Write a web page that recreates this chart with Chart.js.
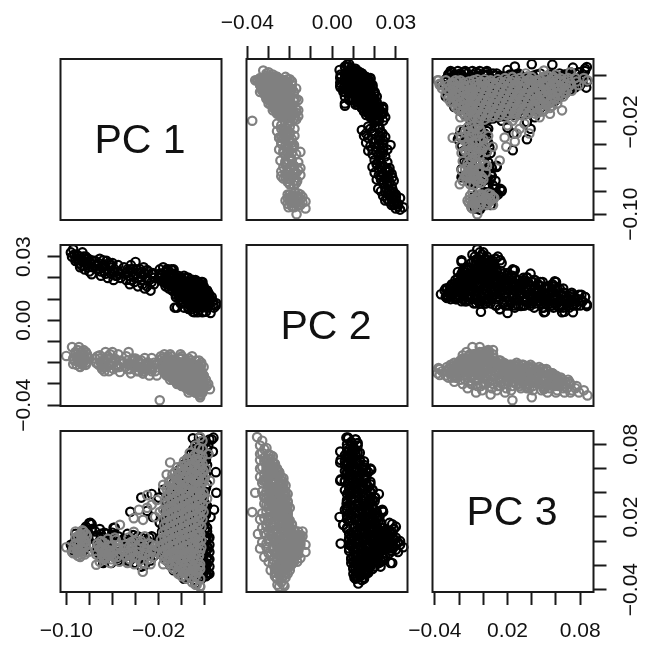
<!DOCTYPE html>
<html>
<head>
<meta charset="utf-8">
<style>
  body { margin: 0; background: #fff; }
  #page { position: relative; width: 659px; height: 655px; }
  canvas { position: absolute; left: 0; top: 0; }
</style>
<script src="https://cdn.jsdelivr.net/npm/chart.js@4/dist/chart.umd.min.js"></script>
</head>
<body>
<div id="page"></div>
<script>
// Scores, one row of each array per cluster
var greyPc1 = [
  .016,.018,
  .012,.015,.018,
  .007,.011,.014,.018,
  .002,.006,.010,.014,.018,
  -.004,.000,.004,.008,.012,.016,.019,
  -.008,-.004,.000,.004,.008,.012,.016,.020,
  -.011,-.007,-.003,.001,.005,.009,.013,.017,
  -.013,-.009,-.005,-.001,.003,.007,.011,.015,.019,
  -.013,-.009,-.005,-.001,.003,.007,.011,.015,.019,
  -.014,-.010,-.006,-.002,.002,.006,.010,.014,.018,
  -.013,-.009,-.005,-.001,.003,.007,.011,.015,.019,
  -.014,-.010,-.006,-.002,.002,.006,.010,.014,.018,
  -.015,-.011,-.007,-.003,.001,.005,.009,.013,.017,
  -.016,-.012,-.008,-.004,.000,.004,.008,.012,.016,
  -.018,-.014,-.010,-.006,-.002,.002,.006,.010,.014,.017,
  -.019,-.015,-.011,-.007,-.003,.001,.005,.009,.013,.017,
  -.017,-.013,-.009,-.005,-.001,.003,.007,.011,.015,
  -.012,-.008,-.004,.000,.004,.008,.012,.016,
  -.007,-.003,.001,.005,.009,.013,.016,
  .000,.004,.008,.012,.016,
  .009,.013,.016,
  .0245,.022,.021,.023,.016,.016,.012,-.016,
  -.100,-.095,-.094,-.092,-.090,-.089,-.088,-.087,-.086,-.085,-.084,-.083,-.082,-.081,-.091,-.087,-.083,-.094,-.090,-.086,
  -.075,-.072,-.071,-.069,-.068,-.066,-.065,-.064,-.063,-.061,-.060,-.059,-.058,-.056,-.055,-.053,-.070,-.067,-.062,-.057,
  -.050,-.048,-.046,-.045,-.043,-.042,-.040,-.039,-.037,-.036,-.0337,-.032,-.031,-.029,-.028,-.026,-.025,-.023,-.044,-.035,
  -.030,-.0415,-.037,-.030,-.0215,-.016,-.023,-.0335,-.0415,-.0535,-.010,-.013,-.016,-.019,-.026,-.074,-.090,
  .005,.009,.013,.016,
  .000,.004,.008,.012,.016,
  -.006,-.002,.002,.006,.010,.014,.018,
  -.009,-.005,-.001,.003,.007,.011,.015,.019,
  -.012,-.008,-.004,.000,.004,.008,.012,.016,
  -.011,-.007,-.003,.001,.005,.009,.013,.017,
  -.012,-.008,-.004,.000,.004,.008,.012,.016,
  -.011,-.007,-.003,.001,.005,.009,.013,.017,
  -.012,-.008,-.004,.000,.004,.008,.012,.016,
  -.013,-.009,-.005,-.001,.003,.007,.011,.015,
  -.014,-.010,-.006,-.002,.002,.006,.010,.014,
  -.015,-.012,-.008,-.004,.000,.004,.008,.012,.015,
  -.017,-.013,-.009,-.005,-.001,.003,.007,.011,.015,
  -.016,-.012,-.008,-.004,.000,.004,.008,.012,.016,
  -.015,-.010,-.006,-.002,.002,.006,.010,.014,
  -.009,-.005,-.001,.003,.007,.011,.015,
  -.003,.002,.006,.010,.014,
  -.093,-.089,-.085,-.092,-.088,-.084,-.091,-.087,-.083,-.086,
  -.074,-.071,-.069,-.067,-.065,-.063,-.061,-.059,-.057,-.055,-.073,-.068,
  -.049,-.047,-.044,-.042,-.040,-.038,-.036,-.034,-.032,-.030,-.028,-.026,-.024,-.046,
  -.062,-.054,-.047,-.041,-.033,-.027
];
var greyPc2 = [
  -.0354,-.033,
  -.034,-.031,-.032,
  -.033,-.029,-.034,-.028,
  -.030,-.034,-.028,-.032,-.027,
  -.027,-.031,-.026,-.033,-.029,-.034,-.026,
  -.026,-.030,-.024,-.032,-.027,-.034,-.025,-.031,
  -.023,-.028,-.025,-.031,-.023,-.033,-.027,-.030,
  -.025,-.022,-.029,-.024,-.031,-.026,-.033,-.023,-.029,
  -.022,-.027,-.024,-.030,-.022,-.032,-.025,-.029,-.026,
  -.024,-.021,-.028,-.023,-.030,-.025,-.032,-.023,-.031,
  -.021,-.026,-.023,-.029,-.021,-.031,-.025,-.033,-.022,
  -.023,-.020,-.027,-.022,-.030,-.024,-.032,-.021,-.034,
  -.019,-.025,-.021,-.028,-.020,-.031,-.024,-.033,-.020,
  -.022,-.018,-.026,-.020,-.029,-.023,-.032,-.019,-.035,
  -.017,-.024,-.016,-.027,-.020,-.030,-.018,-.033,-.025,-.021,
  -.020,-.016,-.025,-.019,-.028,-.022,-.031,-.017,-.034,-.024,
  -.018,-.023,-.017,-.026,-.020,-.029,-.022,-.032,-.019,
  -.021,-.019,-.025,-.018,-.028,-.022,-.030,-.024,
  -.022,-.025,-.020,-.027,-.023,-.029,-.026,
  -.023,-.026,-.022,-.027,-.024,
  -.024,-.023,-.025,
  -.0325,-.031,-.028,-.030,-.0363,-.0225,-.0258,-.020,
  -.0168,-.0126,-.0206,-.016,-.019,-.0126,-.022,-.015,-.020,-.014,-.018,-.021,-.016,-.0175,-.017,-.019,-.015,-.018,-.014,-.021,
  -.018,-.021,-.0165,-.023,-.019,-.015,-.022,-.017,-.024,-.020,-.015,-.023,-.018,-.021,-.016,-.019,-.020,-.024,-.016,-.022,
  -.020,-.017,-.015,-.023,-.019,-.021,-.018,-.024,-.020,-.022,-.025,-.0178,-.023,-.020,-.026,-.0178,-.022,-.024,-.025,-.019,
  -.022,-.021,-.024,-.020,-.026,-.023,-.021,-.025,-.019,-.0244,-.028,-.026,-.024,-.0377,-.023,-.020,-.018,
  -.030,-.032,-.029,-.031,
  -.028,-.029,-.031,-.027,-.030,
  -.025,-.028,-.030,-.025,-.030,-.028,-.029,
  -.027,-.023,-.028,-.027,-.030,-.024,-.032,-.027,
  -.024,-.026,-.022,-.027,-.029,-.024,-.030,-.026,
  -.023,-.025,-.027,-.021,-.028,-.030,-.023,-.032,
  -.026,-.023,-.021,-.027,-.026,-.029,-.021,-.028,
  -.022,-.025,-.027,-.023,-.028,-.024,-.030,-.025,
  -.025,-.021,-.025,-.026,-.024,-.029,-.027,-.023,
  -.021,-.023,-.019,-.025,-.027,-.021,-.029,-.031,
  -.020,-.024,-.022,-.018,-.026,-.028,-.021,-.030,
  -.023,-.019,-.022,-.025,-.017,-.027,-.022,-.030,-.028,
  -.018,-.021,-.019,-.023,-.016,-.026,-.020,-.028,-.031,
  -.022,-.017,-.021,-.024,-.018,-.027,-.019,-.030,-.026,
  -.019,-.021,-.023,-.018,-.026,-.020,-.028,-.022,
  -.020,-.023,-.021,-.025,-.020,-.027,-.022,
  -.024,-.022,-.025,-.021,-.027,
  -.019,-.017,-.016,-.015,-.020,-.019,-.021,-.016,-.020,-.018,
  -.020,-.018,-.021,-.020,-.018,-.021,-.018,-.020,-.019,-.022,-.017,-.022,
  -.022,-.019,-.021,-.018,-.022,-.019,-.020,-.023,-.021,-.023,-.021,-.024,-.020,-.021,
  -.021,-.022,-.023,-.021,-.024,-.022
];
var greyPc3 = [
  .086,.083,
  .079,.077,.076,
  .073,.071,.072,.070,
  .066,.067,.065,.066,.064,
  .061,.059,.060,.061,.059,.060,.058,
  .055,.054,.053,.055,.054,.053,.055,.052,
  .049,.047,.048,.049,.047,.048,.049,.047,
  .043,.041,.042,.043,.041,.042,.041,.043,.040,
  .037,.035,.036,.037,.035,.036,.037,.035,.036,
  .031,.029,.030,.031,.029,.030,.031,.029,.030,
  .025,.023,.024,.025,.023,.024,.025,.023,.024,
  .019,.017,.018,.019,.017,.018,.019,.017,.018,
  .013,.011,.012,.013,.011,.012,.013,.011,.012,
  .007,.005,.006,.007,.005,.006,.007,.005,.006,
  .001,-.001,.000,.001,-.001,.000,.001,-.001,.000,.001,
  -.005,-.007,-.006,-.005,-.007,-.006,-.005,-.007,-.006,-.005,
  -.011,-.013,-.012,-.011,-.013,-.012,-.011,-.013,-.012,
  -.017,-.019,-.018,-.017,-.019,-.018,-.017,-.019,
  -.023,-.025,-.024,-.023,-.025,-.024,-.023,
  -.029,-.031,-.030,-.029,-.031,
  -.034,-.036,-.0378,
  .050,.035,.060,.072,.040,-.037,-.036,-.019,
  -.005,-.009,-.010,.008,-.012,-.003,-.013,.005,-.006,.008,-.011,-.004,.004,-.009,-.002,.001,-.001,-.006,.004,.009,
  -.008,-.004,-.017,-.011,-.001,-.014,-.007,.002,-.012,-.015,-.003,-.009,.003,-.013,-.006,-.010,.000,-.015,-.008,.001,
  -.007,-.012,.003,-.015,-.003,-.009,.001,-.013,-.006,-.016,-.0253,.004,-.010,-.015,-.002,-.007,-.013,-.004,-.001,.000,
  .038,.019,.026,.0275,.034,.026,.020,.0176,.0077,.0135,.065,.055,.0465,.024,.030,-.0195,-.009,
  .068,.069,.068,.067,
  .062,.063,.062,.061,.063,
  .057,.056,.058,.057,.056,.058,.057,
  .051,.052,.050,.051,.052,.050,.051,.050,
  .045,.044,.046,.045,.044,.046,.045,.044,
  .039,.040,.038,.039,.040,.038,.039,.038,
  .033,.034,.032,.033,.034,.032,.033,.032,
  .027,.028,.026,.027,.028,.026,.027,.026,
  .021,.022,.020,.021,.022,.020,.021,.020,
  .015,.016,.014,.015,.016,.014,.015,.014,
  .009,.010,.008,.009,.010,.008,.009,.008,
  .003,.004,.002,.003,.004,.002,.003,.002,.004,
  -.003,-.002,-.004,-.003,-.002,-.004,-.003,-.004,-.002,
  -.009,-.008,-.010,-.009,-.008,-.010,-.009,-.010,-.008,
  -.015,-.014,-.016,-.015,-.014,-.016,-.015,-.016,
  -.021,-.020,-.022,-.021,-.020,-.022,-.021,
  -.027,-.026,-.028,-.027,-.026,
  -.003,-.008,.002,.003,.006,.000,-.007,-.011,.006,-.003,
  -.011,-.006,-.005,-.008,-.011,-.004,-.010,-.013,-.006,-.003,-.002,-.013,
  -.003,-.009,-.011,.000,-.013,-.009,-.003,-.011,-.005,-.008,-.012,-.003,-.009,-.005,
  -.018,-.017,-.018,-.019,-.018,-.019
];

var blackPc1 = [
  .012,.016,.020,.023,
  .008,.012,.016,.020,.023,
  .003,.007,.011,.015,.019,.022,
  -.003,.001,.005,.009,.013,.017,.021,
  -.007,-.002,.003,.008,.013,.018,.022,
  -.010,-.005,.000,.005,.010,.015,.020,
  -.013,-.008,-.003,.002,.007,.012,.017,.021,
  -.014,-.009,-.004,.001,.006,.011,.016,.021,
  -.015,-.010,-.005,.000,.005,.010,.015,.020,
  -.017,-.012,-.007,-.002,.003,.008,.013,.018,.022,
  -.019,-.014,-.009,-.004,.001,.006,.011,.016,.021,.023,
  -.018,-.013,-.008,-.003,.002,.007,.012,.017,.021,.023,
  -.013,-.008,-.003,.002,.007,.012,.017,.021,.023,
  -.007,-.002,.003,.008,.013,.018,.021,.023,
  .002,.007,.012,.017,.021,
  -.096,-.095,-.094,-.092,-.091,-.089,-.088,-.087,-.086,-.085,-.084,-.083,-.082,-.081,-.080,-.079,-.078,-.077,
  -.075,-.073,-.071,-.070,-.068,-.067,-.065,-.064,-.062,-.061,-.060,-.059,-.058,-.056,-.055,-.053,-.072,-.066,
  -.050,-.048,-.047,-.045,-.044,-.042,-.041,-.039,-.038,-.036,-.035,-.033,-.032,-.030,-.029,-.027,-.026,-.024,
  -.0445,-.026,-.019,-.059,-.035,-.030,-.025,-.020,-.016,-.068,-.078,
  .0275,.026,.0097,.015,.027,.0296,.028,.018,.014,.011,.009,-.002,-.008,.006,.020,.019,.021,.003,.024,.030,.025,.0097,-.007,.012,-.040,-.035,.015,
  .010,.014,.018,.022,
  .005,.009,.013,.017,.021,
  .000,.004,.008,.012,.016,.020,
  -.005,-.001,.003,.007,.011,.015,.019,
  -.008,-.004,.001,.006,.011,.016,.021,
  -.011,-.006,-.001,.004,.009,.014,.019,
  -.013,-.008,-.003,.002,.007,.012,.017,.022,
  -.014,-.010,-.005,.000,.005,.010,.015,.020,
  -.016,-.011,-.006,-.001,.004,.009,.014,.019,.022,
  -.018,-.013,-.008,-.003,.002,.007,.012,.017,.021,
  -.019,-.014,-.009,-.004,.001,.006,.011,.016,.020,.022,
  -.016,-.011,-.006,-.001,.004,.009,.014,.019,.022,
  -.010,-.005,.000,.005,.010,.015,.019,.022,
  -.002,.004,.009,.014,.019,.022,
  -.093,-.090,-.087,-.085,-.083,-.081,-.092,-.088,-.084,-.080,
  -.074,-.072,-.069,-.067,-.065,-.063,-.061,-.059,-.057,-.055,-.054,-.070,
  -.049,-.046,-.044,-.042,-.040,-.038,-.036,-.034,-.032,-.030,-.028,-.026,-.024,-.047,
  .016,.019,
  .012,.016,.019,
  .006,.010,.014,.018,
  .002,.007,.011,.015,.019,
  -.004,.001,.005,.010,.014,.018,
  -.006,-.001,.004,.009,.013,.017,
  .018,.014,.009,.004,-.001,-.006,
  .019,.015,.010,.005,.001,-.004,-.009,
  .019,.016,.012,.008,.003,-.002,-.006,-.011,
  .020,.016,.012,.008,.004,-.001,-.006,-.012,
  .020,.016,.012,.008,.004,.000,-.004,-.008,-.012,-.016,
  .019,.015,.011,.007,.003,-.001,-.005,-.009,-.013,
  .018,.014,.010,.006,.002,-.002,-.007,
  .014,.010,.006,.002,-.003,
  .012,.008,.003,
  .024,.024,.024,.024,.024,.024
];
var blackPc2 = [
  .007,.010,.009,.012,
  .009,.006,.012,.008,.011,
  .012,.007,.015,.009,.013,.006,
  .014,.009,.016,.007,.012,.017,.008,
  .016,.011,.018,.008,.014,.006,.012,
  .018,.012,.016,.009,.019,.007,.012,
  .017,.020,.012,.018,.009,.015,.007,.011,
  .021,.016,.019,.011,.017,.008,.014,.009,
  .019,.022,.014,.018,.011,.016,.008,.012,
  .022,.017,.021,.013,.018,.010,.015,.008,.011,
  .024,.018,.021,.015,.019,.011,.016,.009,.013,.008,
  .021,.023,.016,.020,.012,.017,.010,.014,.008,.011,
  .020,.017,.021,.013,.018,.010,.015,.009,.012,
  .016,.019,.012,.017,.011,.015,.010,.013,
  .015,.012,.014,.011,.013,
  .032,.030,.0335,.029,.031,.027,.030,.026,.032,.028,.024,.030,.026,.029,.023,.027,.0217,.025,
  .028,.024,.029,.021,.026,.023,.028,.020,.025,.022,.027,.019,.024,.021,.026,.020,.026,.022,
  .025,.019,.023,.017,.026,.021,.018,.024,.016,.022,.019,.025,.015,.020,.023,.014,.022,.017,
  .024,.022,.020,.023,.0203,.0237,.0223,.020,.019,.0283,.0283,
  .0075,.011,.0075,.0067,.009,.007,.006,.0038,.0038,.0038,.0052,.0184,.0236,.0053,.0068,.004,.004,.018,.011,.008,.0035,.004,.024,.0123,.0275,.0228,.0105,
  .008,.011,.007,.010,
  .011,.008,.013,.010,.007,
  .012,.015,.010,.014,.008,.011,
  .011,.015,.012,.009,.016,.010,.008,
  .014,.017,.013,.011,.017,.010,.009,
  .015,.018,.010,.015,.012,.018,.009,
  .019,.014,.017,.015,.012,.019,.010,.007,
  .016,.020,.017,.014,.020,.011,.017,.007,
  .018,.021,.016,.019,.013,.018,.011,.015,.007,
  .020,.023,.018,.017,.021,.014,.018,.012,.009,
  .022,.020,.024,.018,.016,.020,.013,.017,.011,.009,
  .019,.022,.018,.016,.020,.014,.018,.011,.010,
  .018,.015,.020,.015,.013,.017,.012,.014,
  .015,.017,.013,.016,.012,.014,
  .031,.029,.028,.030,.027,.025,.028,.025,.029,.028,
  .026,.027,.025,.026,.024,.027,.026,.023,.021,.023,.022,.023,
  .022,.021,.019,.024,.022,.020,.024,.017,.022,.016,.019,.018,.020,.024,
  .009,.012,
  .007,.010,.013,
  .006,.009,.012,.015,
  .006,.008,.011,.013,.016,
  .006,.008,.010,.013,.015,.018,
  .006,.008,.011,.013,.015,.018,
  .007,.009,.011,.014,.016,.019,
  .007,.010,.012,.014,.016,.018,.020,
  .007,.009,.012,.013,.015,.017,.019,.021,
  .007,.010,.012,.014,.016,.019,.021,.023,
  .008,.010,.012,.014,.016,.019,.020,.022,.024,.025,
  .008,.010,.012,.014,.016,.018,.020,.022,.024,
  .009,.011,.013,.015,.017,.019,.021,
  .010,.012,.014,.016,.018,
  .011,.013,.015,
  .010,.012,.009,.011,.008,.010
];
var blackPc3 = [
  .080,.078,.081,.079,
  .072,.071,.073,.070,.072,
  .064,.065,.063,.064,.066,.063,
  .056,.055,.057,.056,.054,.057,.055,
  .048,.049,.047,.048,.046,.049,.047,
  .040,.041,.039,.040,.042,.039,.041,
  .032,.033,.031,.032,.034,.031,.033,.030,
  .024,.025,.023,.024,.026,.023,.025,.022,
  .016,.017,.015,.016,.018,.015,.017,.014,
  .008,.009,.007,.008,.010,.007,.009,.006,.008,
  .000,.001,-.001,.000,.002,-.001,.001,-.002,.000,.002,
  -.008,-.007,-.009,-.008,-.006,-.009,-.007,-.010,-.008,-.006,
  -.016,-.015,-.017,-.016,-.014,-.017,-.015,-.018,-.016,
  -.024,-.023,-.025,-.024,-.022,-.025,-.023,-.026,
  -.031,-.030,-.032,-.031,-.029,
  -.003,-.007,-.005,.001,-.009,.004,-.003,.008,.000,-.008,.006,.012,.009,.002,.015,.0151,.010,.004,
  .008,-.006,.010,-.012,.003,-.017,.006,-.010,-.001,-.018,.007,-.008,.011,-.014,.004,-.009,-.002,.001,
  .002,-.012,.006,-.016,-.004,.005,-.018,-.002,-.010,-.007,.003,-.013,-.020,.001,-.008,-.016,.004,-.012,
  .0243,.039,.0152,.011,.036,.025,.020,.036,.0425,-.018,.014,
  .0855,.084,.085,.0855,.074,.057,.026,.065,.050,.074,.0135,.059,.026,.0136,.031,.051,.067,.060,.084,.040,.020,-.002,.005,-.035,-.018,-.021,-.030,
  .076,.075,.077,.076,
  .068,.069,.067,.068,.069,
  .060,.061,.059,.060,.061,.059,
  .052,.053,.051,.052,.053,.051,.052,
  .044,.045,.043,.044,.045,.043,.044,
  .036,.037,.035,.036,.037,.035,.036,
  .028,.029,.027,.028,.029,.027,.028,.029,
  .020,.021,.019,.020,.021,.019,.020,.021,
  .012,.013,.011,.012,.013,.011,.012,.013,.011,
  .004,.005,.003,.004,.005,.003,.004,.005,.003,
  -.004,-.003,-.005,-.004,-.003,-.005,-.004,-.003,-.005,-.004,
  -.012,-.011,-.013,-.012,-.011,-.013,-.012,-.011,-.013,
  -.020,-.019,-.021,-.020,-.019,-.021,-.020,-.019,
  -.027,-.026,-.028,-.027,-.026,-.028,
  -.001,-.005,-.006,.003,-.002,.007,.006,.002,.010,-.004,
  .003,-.010,-.004,.007,-.013,.002,-.006,.005,-.012,-.016,.000,.006,
  -.008,-.003,-.011,-.013,.000,.004,-.014,-.006,-.002,-.012,.003,-.010,-.003,-.016,
  .082,.081,
  .074,.075,.073,
  .066,.067,.065,.066,
  .058,.059,.057,.058,.059,
  .050,.051,.049,.050,.051,.049,
  .042,.043,.041,.042,.043,.041,
  .034,.035,.033,.034,.035,.033,
  .026,.027,.025,.026,.027,.025,.026,
  .018,.019,.017,.018,.019,.017,.018,.019,
  .010,.011,.009,.010,.011,.009,.010,.011,
  .002,.003,.001,.002,.003,.001,.002,.003,.001,.002,
  -.006,-.005,-.007,-.006,-.005,-.007,-.006,-.005,-.007,
  -.014,-.013,-.015,-.014,-.013,-.015,-.014,
  -.022,-.021,-.023,-.022,-.021,
  -.029,-.028,-.030,
  -.027,-.021,-.015,-.009,-.003,.003
];

var pc1Range = [-0.105, 0.0345];
var pc2Range = [-0.0404, 0.0355];
var pc3Range = [-0.042, 0.091];

var pc1Ticks = [-0.10, -0.08, -0.06, -0.04, -0.02, 0, 0.02];
var pc2Ticks = [-0.04, -0.03, -0.02, -0.01, 0, 0.01, 0.02, 0.03];
var pc3Ticks = [-0.04, -0.02, 0, 0.02, 0.04, 0.06, 0.08];

var tickLabels = { "-0.1": "\u22120.10", "-0.04": "\u22120.04", "-0.02": "\u22120.02", "0": "0.00", "0.02": "0.02", "0.03": "0.03", "0.08": "0.08" };

var FONT = '"Liberation Sans", Arial, sans-serif';
var INK = "#1a1a1a";
var colLefts = [60.5, 246.5, 432.5];
var rowTops = [59, 245, 431];
var PANEL = 161;
var AXIS = 45;

var boxPlugin = {
  id: "panelBox",
  afterDraw: function(chart, args, opts) {
    var a = chart.chartArea, ctx = chart.ctx;
    ctx.save();
    ctx.strokeStyle = INK;
    ctx.lineWidth = 2;
    ctx.strokeRect(a.left, a.top, a.right - a.left, a.bottom - a.top);
    if (opts.title) {
      ctx.fillStyle = "#111";
      ctx.font = "41px " + FONT;
      ctx.textAlign = "center";
      ctx.textBaseline = "middle";
      ctx.fillText(opts.title, (a.left + a.right) / 2 - 1, (a.top + a.bottom) / 2 + 2);
    }
    ctx.restore();
  }
};

function pairs(xs, ys) {
  return xs.map(function(v, i) { return { x: v, y: ys[i] }; });
}

function axis(range, values, side, labels, padding) {
  var vertical = side == "left" || side == "right";
  return {
    type: "linear",
    position: side || "bottom",
    display: !!side,
    min: range[0],
    max: range[1],
    afterBuildTicks: function(scale) {
      scale.ticks = values.map(function(v) { return { value: v }; });
    },
    afterFit: function(scale) {
      if (!side) { return; }
      if (vertical) { scale.width = AXIS; } else { scale.height = AXIS; }
    },
    border: { display: false },
    grid: { drawOnChartArea: false, drawTicks: true, tickLength: 13, tickWidth: 2, tickColor: INK },
    ticks: {
      autoSkip: false,
      color: "#111",
      font: { family: FONT, size: 21 },
      padding: padding,
      minRotation: vertical ? 90 : 0,
      maxRotation: vertical ? 90 : 0,
      crossAlign: vertical ? "center" : "near",
      callback: function(v) {
        var key = String(Math.round(v * 1000) / 1000);
        return labels.indexOf(key) >= 0 ? tickLabels[key] : "";
      }
    }
  };
}

function panel(col, row, spec) {
  var canvas = document.createElement("canvas");
  canvas.width = 659;
  canvas.height = 655;
  document.getElementById("page").appendChild(canvas);

  var left = colLefts[col], top = rowTops[row];
  var pad = {
    left: left - (spec.ySide == "left" ? AXIS : 0),
    right: 659 - left - PANEL - (spec.ySide == "right" ? AXIS : 0),
    top: top - (spec.xSide == "top" ? AXIS : 0),
    bottom: 655 - top - PANEL - (spec.xSide == "bottom" ? AXIS : 0)
  };

  var datasets = [];
  if (spec.grey) {
    // first dataset is painted last, grey sits over black
    [[spec.grey, "#808080"], [spec.black, "#000000"]].forEach(function(s) {
      datasets.push({
        data: s[0],
        borderColor: s[1],
        backgroundColor: "transparent",
        borderWidth: 2.2,
        pointRadius: 4.2,
        pointHoverRadius: 4.2,
        clip: false
      });
    });
  }

  new Chart(canvas, {
    type: "scatter",
    data: { datasets: datasets },
    options: {
      responsive: false,
      animation: false,
      events: [],
      layout: { padding: pad },
      plugins: { legend: { display: false }, tooltip: { enabled: false }, panelBox: { title: spec.title } },
      scales: {
        x: axis(spec.xRange, spec.xTicks, spec.xSide, spec.xLabels || [], spec.xPad),
        y: axis(spec.yRange, spec.yTicks, spec.ySide, spec.yLabels || [], spec.yPad)
      }
    },
    plugins: [boxPlugin]
  });
}

// Top row
panel(0, 0, { title: "PC 1", xRange: pc1Range, xTicks: pc1Ticks, yRange: pc1Range, yTicks: pc1Ticks });
panel(1, 0, {
  grey: pairs(greyPc2, greyPc1), black: pairs(blackPc2, blackPc1),
  xRange: pc2Range, xTicks: pc2Ticks, xSide: "top", xLabels: ["-0.04", "0", "0.03"], xPad: 10,
  yRange: pc1Range, yTicks: pc1Ticks
});
panel(2, 0, {
  grey: pairs(greyPc3, greyPc1), black: pairs(blackPc3, blackPc1),
  xRange: pc3Range, xTicks: pc3Ticks,
  yRange: pc1Range, yTicks: pc1Ticks, ySide: "right", yLabels: ["-0.1", "-0.02"], yPad: -2
});

// Middle row
panel(0, 1, {
  grey: pairs(greyPc1, greyPc2), black: pairs(blackPc1, blackPc2),
  xRange: pc1Range, xTicks: pc1Ticks,
  yRange: pc2Range, yTicks: pc2Ticks, ySide: "left", yLabels: ["-0.04", "0", "0.03"], yPad: -3
});
panel(1, 1, { title: "PC 2", xRange: pc2Range, xTicks: pc2Ticks, yRange: pc2Range, yTicks: pc2Ticks });
panel(2, 1, {
  grey: pairs(greyPc3, greyPc2), black: pairs(blackPc3, blackPc2),
  xRange: pc3Range, xTicks: pc3Ticks,
  yRange: pc2Range, yTicks: pc2Ticks
});

// Bottom row
panel(0, 2, {
  grey: pairs(greyPc1, greyPc3), black: pairs(blackPc1, blackPc3),
  xRange: pc1Range, xTicks: pc1Ticks, xSide: "bottom", xLabels: ["-0.1", "-0.02"], xPad: 14,
  yRange: pc3Range, yTicks: pc3Ticks
});
panel(1, 2, {
  grey: pairs(greyPc2, greyPc3), black: pairs(blackPc2, blackPc3),
  xRange: pc2Range, xTicks: pc2Ticks,
  yRange: pc3Range, yTicks: pc3Ticks
});
panel(2, 2, {
  title: "PC 3",
  xRange: pc3Range, xTicks: pc3Ticks, xSide: "bottom", xLabels: ["-0.04", "0.02", "0.08"], xPad: 14,
  yRange: pc3Range, yTicks: pc3Ticks, ySide: "right", yLabels: ["-0.04", "0.02", "0.08"], yPad: -2
});

if (greyPc1.length != greyPc2.length || greyPc1.length != greyPc3.length ||
    blackPc1.length != blackPc2.length || blackPc1.length != blackPc3.length) {
  throw new Error("lengths " + [greyPc1.length, greyPc2.length, greyPc3.length, blackPc1.length, blackPc2.length, blackPc3.length]);
}
</script>
</body>
</html>
